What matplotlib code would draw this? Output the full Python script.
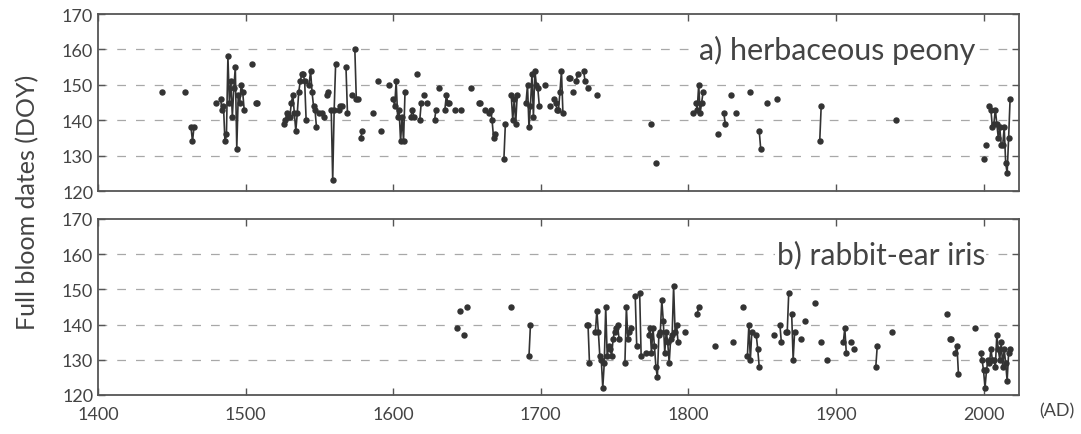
import numpy as np
import matplotlib
matplotlib.use("Agg")
import matplotlib.pyplot as plt

plt.rcParams['font.family'] = ['Lato', 'DejaVu Sans']

# a) herbaceous peony, full bloom day of year
peony_years = [1443, 1459, 1463, 1464, 1465,
               1480, 1483, 1484, 1485, 1486, 1487, 1488, 1489, 1490, 1491, 1492,
               1493, 1494, 1495, 1496, 1497, 1498, 1499, 1504, 1507, 1508,
               1526, 1527, 1528, 1529, 1530, 1531, 1532, 1533, 1534, 1535, 1536,
               1537, 1538, 1539, 1540, 1541, 1543, 1544, 1545, 1546, 1547, 1548,
               1550, 1552, 1553, 1555, 1556, 1558, 1559, 1560, 1561, 1563, 1564,
               1565, 1568, 1569, 1572, 1574, 1575, 1576, 1578, 1579, 1586, 1590,
               1592, 1597, 1600, 1601, 1602, 1603, 1604, 1605, 1606, 1607, 1608,
               1612, 1613, 1614, 1616, 1618, 1619, 1621, 1623, 1628, 1629, 1631,
               1635, 1636, 1637, 1638, 1642, 1646, 1653, 1658, 1659, 1662, 1665,
               1666, 1667, 1668, 1669, 1675, 1676, 1680, 1681, 1682, 1683, 1684,
               1690, 1691, 1692, 1693, 1694, 1695, 1696, 1697, 1698, 1699, 1703,
               1706, 1709, 1710, 1711, 1712, 1713, 1714, 1715, 1719, 1720, 1722,
               1724, 1725, 1729, 1730, 1732, 1738, 1775, 1778,
               1803, 1805, 1806, 1807, 1808, 1809, 1810, 1820, 1824, 1825, 1829,
               1832, 1842, 1848, 1849, 1853, 1860, 1889, 1890, 1941, 2000, 2002,
               2004, 2005, 2006, 2007, 2008, 2009, 2010, 2011, 2012, 2013, 2014,
               2015, 2016, 2017, 2018]
peony_doy = [148, 148, 138, 134, 138,
             145, 146, 143, 144, 134, 136, 158, 145, 151, 141, 149,
             155, 132, 147, 145, 150, 148, 143, 156, 145, 145,
             139, 140, 142, 141, 141, 145, 147, 142, 137, 142, 148,
             151, 153, 153, 151, 140, 150, 154, 148, 144, 143, 138,
             142, 142, 141, 147, 148, 143, 123, 143, 156, 143, 144,
             144, 155, 142, 147, 160, 146, 146, 135, 137, 142, 151,
             137, 150, 146, 144, 151, 141, 143, 134, 141, 134, 148,
             141, 143, 141, 153, 140, 145, 147, 145, 140, 143, 149,
             143, 147, 145, 145, 143, 143, 149, 145, 145, 143, 142,
             143, 140, 135, 136, 129, 139, 147, 140, 146, 139, 147,
             145, 150, 138, 144, 153, 141, 154, 150, 149, 144, 150,
             144, 146, 145, 143, 143, 148, 154, 142, 152, 152, 148,
             151, 153, 154, 151, 149, 147, 139, 128,
             142, 145, 143, 150, 142, 145, 148, 136, 142, 139, 147,
             142, 148, 137, 132, 145, 146, 134, 144, 140, 129, 133,
             144, 143, 138, 139, 143, 139, 135, 138, 133, 133, 138,
             128, 125, 135, 146]

# b) rabbit-ear iris, full bloom day of year
iris_years = [1643, 1645, 1648, 1650, 1680, 1692, 1693,
              1731, 1732, 1733,
              1737, 1738, 1739, 1740, 1741, 1742, 1743, 1744, 1745, 1746, 1747,
              1748, 1749, 1750, 1751, 1752, 1753,
              1757, 1758, 1759, 1760, 1761, 1764, 1765, 1767, 1768, 1771,
              1773, 1774, 1775, 1776, 1777, 1778, 1779, 1780, 1781, 1782, 1783,
              1784, 1785, 1786, 1787, 1788, 1789, 1790, 1791, 1792, 1793,
              1798, 1806, 1807, 1818, 1830, 1837, 1840, 1841, 1842, 1843,
              1846, 1847, 1848, 1858, 1862, 1863, 1866, 1867, 1868, 1870, 1871,
              1872, 1876, 1879, 1886, 1890, 1894, 1905, 1906, 1907, 1910, 1912,
              1927, 1928, 1938, 1975, 1977, 1978, 1981, 1982, 1983, 1994,
              1998, 1999, 2000, 2001, 2002, 2003, 2004, 2005, 2006, 2007, 2008,
              2009, 2010, 2011, 2012, 2013, 2014, 2015, 2016, 2017, 2018]
iris_doy = [139, 144, 137, 145, 145, 131, 140,
            140, 140, 129,
            138, 144, 138, 131, 130, 122, 129, 145, 131, 134, 133,
            131, 136, 138, 139, 140, 136,
            129, 145, 136, 138, 139, 148, 134, 149, 131, 132,
            137, 139, 132, 139, 134, 128, 125, 137, 138, 147, 141,
            132, 138, 135, 129, 136, 137, 151, 138, 140, 135, 138,
            143, 145, 134, 135, 145, 131, 140, 130, 138, 137,
            133, 128, 137, 140, 135, 138, 138, 149, 143, 130, 138,
            136, 141, 146, 135, 130, 135, 139, 132, 135, 133, 128,
            134, 138, 143, 136, 136, 132, 134, 126, 139, 132,
            130, 127, 122, 127, 130, 129, 133, 130, 130, 128, 137,
            133, 130, 135, 128, 133, 129, 124, 132, 133, 130]

years_ticks = list(range(1400, 2001, 100))
doy_ticks = list(range(120, 171, 10))


def with_gaps(years, vals):
    # break the line wherever a year is missing
    xs, ys = [], []
    for i, (yr, v) in enumerate(zip(years, vals)):
        if i > 0 and yr - years[i - 1] > 1:
            xs.append(np.nan)
            ys.append(np.nan)
        xs.append(yr)
        ys.append(v)
    return xs, ys


fig = plt.figure(figsize=(10.81, 4.35), dpi=100)
ax1 = fig.add_axes([0.0907, 0.5586, 0.8519, 0.4069])
ax2 = fig.add_axes([0.0907, 0.0897, 0.8519, 0.4046])

ink = '#333333'
panels = [(ax1, peony_years, peony_doy, 'a) herbaceous peony', 0.953, 22),
          (ax2, iris_years, iris_doy, 'b) rabbit-ear iris', 0.963, 21.5)]
for ax, yrs, vals, label, tx, fs in panels:
    xs, ys = with_gaps(yrs, vals)
    ax.plot(xs, ys, '-o', color=ink, lw=1.2, ms=3.6, zorder=3)
    ax.set_xlim(1400, 2024)
    ax.set_ylim(120, 170)
    ax.set_xticks(years_ticks)
    ax.set_yticks(doy_ticks)
    for g in [130, 140, 150, 160]:
        ax.axhline(g, color='#a8a8a8', lw=0.9, ls=(0, (7, 8)), zorder=1)
    ax.tick_params(direction='in', top=True, right=True, length=5,
                   width=1, colors='#555555', labelcolor='#444444', labelsize=13)
    ax.tick_params(axis='x', pad=8)
    for s in ax.spines.values():
        s.set_color('#555555')
        s.set_linewidth(1.3)
    ax.text(tx, 0.80, label, transform=ax.transAxes, ha='right', va='center',
            fontsize=fs, color='#444444',
            bbox=dict(facecolor='white', edgecolor='none', pad=1))

ax1.set_xticklabels([])
fig.text(0.026, 0.535, 'Full bloom dates (DOY)', rotation=90, ha='center', va='center',
         fontsize=18, color='#444444')
fig.text(0.978, 0.055, '(AD)', ha='center', va='center', fontsize=13, color='#444444')

fig.savefig('out.png', dpi=100)
